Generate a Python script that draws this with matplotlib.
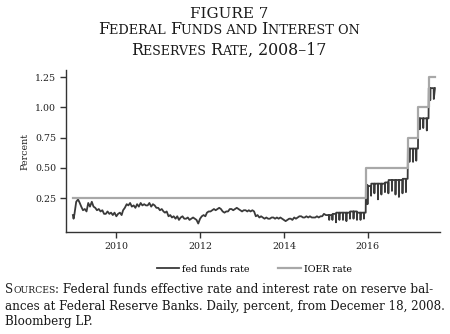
import datetime as dt
import matplotlib
matplotlib.use("Agg")
import matplotlib.pyplot as plt
import matplotlib.dates as mdates

plt.rcParams["font.family"] = ["DejaVu Serif"]

# fed funds effective rate, 1st and 16th of each month, 2009-2014
ff_start = [(dt.date(2008, 12, 18), 0.11), (dt.date(2008, 12, 24), 0.08)]
ff_halfmonth = {
    2009: [0.12, 0.22, 0.24, 0.21, 0.18, 0.15, 0.16, 0.14, 0.21, 0.18, 0.22, 0.18,
           0.17, 0.15, 0.16, 0.14, 0.15, 0.12, 0.12, 0.14, 0.12, 0.13, 0.11, 0.13],
    2010: [0.10, 0.12, 0.13, 0.11, 0.15, 0.17, 0.20, 0.19, 0.21, 0.18, 0.19, 0.17,
           0.20, 0.18, 0.21, 0.19, 0.20, 0.19, 0.19, 0.21, 0.18, 0.20, 0.19, 0.17],
    2011: [0.17, 0.15, 0.16, 0.14, 0.13, 0.14, 0.10, 0.11, 0.09, 0.10, 0.08, 0.10,
           0.07, 0.09, 0.10, 0.08, 0.08, 0.09, 0.07, 0.08, 0.09, 0.08, 0.07, 0.04],
    2012: [0.08, 0.10, 0.11, 0.10, 0.13, 0.14, 0.14, 0.15, 0.16, 0.15, 0.16, 0.17,
           0.16, 0.14, 0.13, 0.14, 0.14, 0.16, 0.16, 0.15, 0.16, 0.17, 0.16, 0.15],
    2013: [0.14, 0.15, 0.15, 0.14, 0.15, 0.14, 0.15, 0.14, 0.10, 0.11, 0.09, 0.10,
           0.09, 0.08, 0.09, 0.08, 0.08, 0.09, 0.09, 0.08, 0.09, 0.08, 0.09, 0.08],
    2014: [0.07, 0.06, 0.07, 0.08, 0.08, 0.07, 0.09, 0.08, 0.09, 0.10, 0.10, 0.09,
           0.09, 0.10, 0.09, 0.10, 0.09, 0.09, 0.09, 0.10, 0.09, 0.10, 0.10, 0.12],
}

# 2015 to mid-2017: month, level before/after mid-month hike, month-end dip
ff_months = [(2015, m) for m in range(1, 13)] + [(2016, m) for m in range(1, 13)] + \
            [(2017, m) for m in range(1, 8)]
ff_level1 = [0.11, 0.11, 0.12, 0.13, 0.13, 0.13, 0.13, 0.14, 0.14, 0.13, 0.13, 0.13,
             0.35, 0.37, 0.37, 0.37, 0.37, 0.38, 0.40, 0.40, 0.40, 0.40, 0.41, 0.41,
             0.66, 0.66, 0.66, 0.91, 0.91, 0.91, 1.16]
ff_level2 = [0.11, 0.11, 0.12, 0.13, 0.13, 0.13, 0.13, 0.14, 0.14, 0.13, 0.13, 0.36,
             0.35, 0.37, 0.37, 0.37, 0.37, 0.38, 0.40, 0.40, 0.40, 0.40, 0.41, 0.66,
             0.66, 0.66, 0.91, 0.91, 0.91, 1.16, 1.16]
ff_dip = [0.07, 0.07, 0.05, 0.07, 0.07, 0.06, 0.08, 0.08, 0.07, 0.07, 0.08, 0.20,
          0.27, 0.29, 0.24, 0.28, 0.30, 0.29, 0.31, 0.28, 0.26, 0.29, 0.30, 0.55,
          0.55, 0.56, 0.82, 0.83, 0.81, 1.06, 1.07]
ff_end = (dt.date(2017, 8, 10), 1.16)

# IOER rate steps
ioer_dates = [dt.date(2008, 12, 18), dt.date(2015, 12, 17), dt.date(2016, 12, 15),
              dt.date(2017, 3, 16), dt.date(2017, 6, 15), dt.date(2017, 8, 10)]
ioer_vals = [0.25, 0.50, 0.75, 1.00, 1.25, 1.25]

ff_x = [d for d, v in ff_start]
ff_y = [v for d, v in ff_start]
for yr, vals in ff_halfmonth.items():
    for i, v in enumerate(vals):
        ff_x.append(dt.date(yr, i // 2 + 1, 1 if i % 2 == 0 else 16))
        ff_y.append(v)
for (yr, m), a, b, c in zip(ff_months, ff_level1, ff_level2, ff_dip):
    last = (dt.date(yr + (m == 12), m % 12 + 1, 1) - dt.timedelta(days=1)).day
    ff_x += [dt.date(yr, m, 2), dt.date(yr, m, 15), dt.date(yr, m, 17),
             dt.date(yr, m, last - 1), dt.date(yr, m, last)]
    ff_y += [a, a, b, b, c]
ff_x.append(ff_end[0])
ff_y.append(ff_end[1])

fig = plt.figure(figsize=(4.5, 3.34), dpi=100)
ax = fig.add_axes([66 / 450, 1 - 232 / 334, 374 / 450, 162 / 334])

ax.plot(ff_x, ff_y, color="#3a3a3a", lw=1.3, label="fed funds rate")
ax.step(ioer_dates, ioer_vals, where="post", color="#a8a8a8", lw=1.6, label="IOER rate")

ax.set_xlim(dt.date(2008, 10, 19), dt.date(2017, 9, 23))
ax.set_ylim(-0.03, 1.31)
ax.set_yticks([0.25, 0.5, 0.75, 1.0, 1.25])
ax.set_yticklabels(["0.25", "0.50", "0.75", "1.00", "1.25"])
ax.set_xticks([dt.date(y, 1, 1) for y in (2010, 2012, 2014, 2016)])
ax.xaxis.set_major_formatter(mdates.DateFormatter("%Y"))
ax.set_ylabel("Percent", fontsize=6.8, labelpad=4, color="#222222")
for s in ("top", "right"):
    ax.spines[s].set_visible(False)
for s in ("left", "bottom"):
    ax.spines[s].set_color("#333333")
    ax.spines[s].set_linewidth(1.0)
ax.tick_params(length=4, width=1.0, color="#333333", labelsize=6.8,
               labelcolor="#222222", pad=3)

fig.legend(loc="center", bbox_to_anchor=(0.565, 1 - 269 / 334), ncol=2, frameon=False,
           fontsize=6.8, handlelength=2.4, columnspacing=3.0, handletextpad=0.3)


def caps_line(pieces, y_px, width_px=None, x_px=None):
    # pieces of (text, size); scaled so the line spans width_px if given
    texts = [fig.text(0, 1 - y_px / 334, s, fontsize=fs, va="baseline", ha="left",
                      color="#1a1a1a") for s, fs in pieces]
    r = fig.canvas.get_renderer()
    scale = 1.0
    if width_px:
        scale = width_px / sum(t.get_window_extent(r).width for t in texts)
        for t, (s, fs) in zip(texts, pieces):
            t.set_fontsize(fs * scale)
    widths = [t.get_window_extent(r).width for t in texts]
    x = (450 - sum(widths)) / 2 + 4 if x_px is None else x_px
    for t, w in zip(texts, widths):
        t.set_x(x / 450)
        x += w
    return scale


L, S = 10, 8
caps_line([("FIGURE 7", L)], 18, 78)
caps_line([("F", L), ("EDERAL ", S), ("F", L), ("UNDS AND ", S), ("I", L),
           ("NTEREST ON", S)], 34, 262)
caps_line([("R", L), ("ESERVES ", S), ("R", L), ("ATE", S), (", 2008–17", L)], 55, 195)

B, s = 9, 7
caps_line([("S", B), ("OURCES", s),
           (": Federal funds effective rate and interest rate on reserve bal-", B)],
          293, 428, 5)
k = caps_line([("ances at Federal Reserve Banks. Daily, percent, from Decemer 18, 2008.", B)],
              310, 440, 5)
caps_line([("Bloomberg LP.", B * k)], 325, None, 5)

fig.savefig("out.png", dpi=100)
